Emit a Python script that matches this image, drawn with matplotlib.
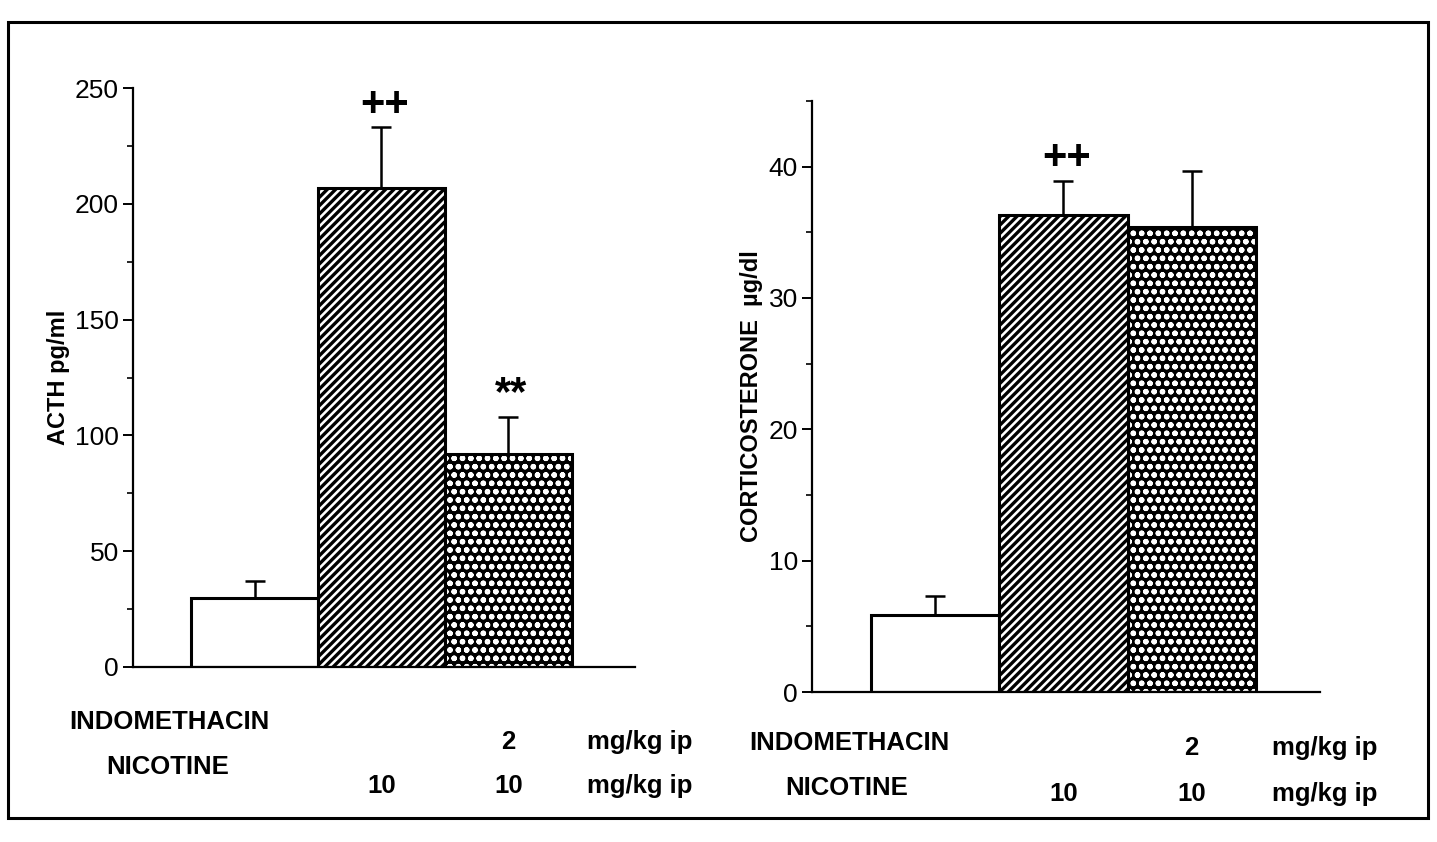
import numpy as np
import matplotlib
matplotlib.use("Agg")
import matplotlib.pyplot as plt
from matplotlib.patches import Rectangle
from matplotlib.ticker import MultipleLocator

plt.rcParams['font.family'] = ['Liberation Sans', 'DejaVu Sans']

# data
groups = [1, 2, 3]
acth = [30, 207, 92]
acth_err = [7, 26, 16]
acth_marks = ['', '++', '**']
cort = [5.9, 36.3, 35.4]
cort_err = [1.4, 2.6, 4.3]
cort_marks = ['', '++', '']
hatches = ['', '////', 'oo']
indo_doses = ['', '', '2']
nic_doses = ['', '10', '10']
unit = 'mg/kg ip'

fig = plt.figure(figsize=(14.37, 8.42), dpi=100)
W, H = 1437, 842


def hatched_bar(ax, x, v, h):
    if h == 'oo':
        hl = 1.6
        with plt.rc_context({'hatch.linewidth': hl}):
            b = ax.bar(x, v, width=1.0, color='black', edgecolor='white', hatch=h, lw=0)
    else:
        hl = 2.4
        with plt.rc_context({'hatch.linewidth': hl}):
            b = ax.bar(x, v, width=1.0, color='white', edgecolor='black', hatch=h or None, lw=0)
    for p in b:
        if hasattr(p, 'set_hatch_linewidth'):
            p.set_hatch_linewidth(hl)
    ax.bar(x, v, width=1.0, fill=False, edgecolor='black', lw=2.2)


def panel(rect, vals, errs, marks, ylim, major, minor, ylabel, rows):
    ax = fig.add_axes(rect)
    for x, v, h in zip(groups, vals, hatches):
        hatched_bar(ax, x, v, h)
    ax.errorbar(groups, vals, yerr=[np.zeros(3), errs], fmt='none', ecolor='black',
                elinewidth=1.8, capsize=7, capthick=1.8)
    for x, v, e, m in zip(groups, vals, errs, marks):
        if m:
            ax.annotate(m, (x, v + e), xytext=(2, 2), textcoords='offset points',
                        ha='center', va='bottom', fontsize=30, fontweight='bold')
    ax.set_xlim(0.04, 4.0)
    ax.set_ylim(*ylim)
    ax.yaxis.set_major_locator(MultipleLocator(major))
    ax.yaxis.set_minor_locator(MultipleLocator(minor))
    ax.set_xticks([])
    for s in ['top', 'right']:
        ax.spines[s].set_visible(False)
    for s in ['left', 'bottom']:
        ax.spines[s].set_linewidth(1.6)
    ax.tick_params(axis='y', which='major', length=7, width=1.4, labelsize=19, pad=3)
    ax.tick_params(axis='y', which='minor', length=4, width=1.2)
    ax.set_ylabel(ylabel, fontsize=17, fontweight='bold', labelpad=4)

    tr = ax.get_xaxis_transform()
    (l1, v1), (l2, v2) = rows
    kw = dict(transform=tr, ha='center', va='center', fontsize=18.5,
              fontweight='bold', clip_on=False)
    ax.text(0.33, l1, 'INDOMETHACIN', **kw)
    ax.text(0.31, l2, 'NICOTINE', **kw)
    for x, d1, d2 in zip(groups, indo_doses, nic_doses):
        ax.text(x, v1, d1, **kw)
        ax.text(x, v2, d2, **kw)
    ax.text(4.04, v1, unit, **kw)
    ax.text(4.04, v2, unit, **kw)
    return ax


panel([133 / W, 1 - 667 / H, 502 / W, 579 / H], acth, acth_err, acth_marks,
      (0, 250), 50, 25, 'ACTH pg/ml', [(-0.095, -0.13), (-0.173, -0.205)])
panel([812 / W, 1 - 692 / H, 508 / W, 591 / H], cort, cort_err, cort_marks,
      (0, 45), 10, 5, 'CORTICOSTERONE  \u00b5g/dl', [(-0.087, -0.095), (-0.163, -0.172)])

fig.add_artist(Rectangle((8 / W, 1 - 818 / H), 1420 / W, 796 / H,
                         transform=fig.transFigure, fill=False, lw=2.2, color='black'))

plt.savefig('out.png', dpi=100)
